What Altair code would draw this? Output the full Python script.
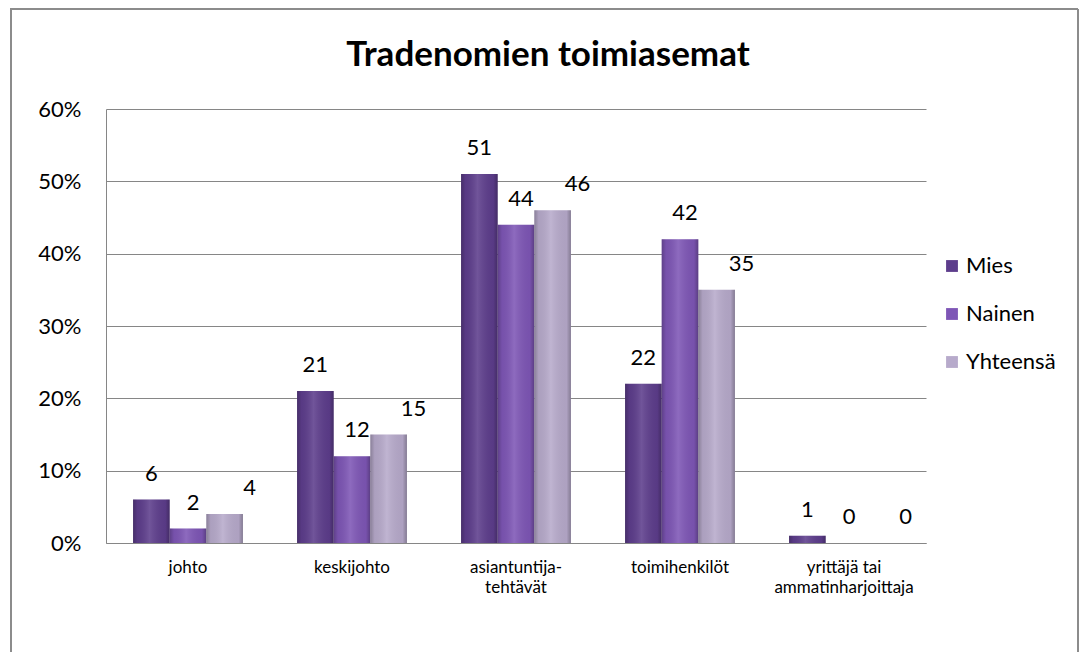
import altair as alt
import pandas as pd

title_text = "Tradenomien toimiasemat"
categories = ["johto", "keskijohto", "asiantuntija-tehtävät", "toimihenkilöt",
              "yrittäjä tai ammatinharjoittaja"]
series = ["Mies", "Nainen", "Yhteensä"]
mies = [6, 21, 51, 22, 1]
nainen = [2, 12, 44, 42, 0]
yhteensa = [4, 15, 46, 35, 0]
y_ticks = [0, 10, 20, 30, 40, 50, 60]
colors = ["#5d3d8c", "#7e56b6", "#b7aacb"]
label_dx = [0, 5, 25]

rows = []
for s, vals in zip(series, [mies, nainen, yhteensa]):
    for c, v in zip(categories, vals):
        rows.append({"kategoria": c, "sarja": s, "arvo": v})
df = pd.DataFrame(rows)

FONT = "Lato"
GRID = "#868686"

label_expr = ("datum.label == 'asiantuntija-tehtävät' ? ['asiantuntija-', 'tehtävät'] : "
              "datum.label == 'yrittäjä tai ammatinharjoittaja' ? ['yrittäjä tai', 'ammatinharjoittaja'] : datum.label")

x = alt.X("kategoria:N", sort=categories,
          scale=alt.Scale(domain=categories, paddingInner=0.33, paddingOuter=0.165),
          axis=alt.Axis(title=None, labelAngle=0, labelExpr=label_expr, labelFont=FONT,
                        labelFontSize=17, labelColor="black", ticks=False,
                        domainColor=GRID, labelPadding=16, labelLineHeight=20))
xo = alt.XOffset("sarja:N", sort=series,
                 scale=alt.Scale(domain=series, paddingInner=0, paddingOuter=0))
y = alt.Y("arvo:Q", scale=alt.Scale(domain=[0, 60]),
          axis=alt.Axis(title=None, values=y_ticks, labelExpr="datum.value + '%'",
                        labelFont=FONT, labelFontSize=22, labelColor="black",
                        ticks=False, labelPadding=25, domainColor=GRID,
                        gridColor=GRID, gridWidth=1))

base = alt.Chart(df)

bars = base.mark_bar().encode(
    x=x, xOffset=xo, y=y,
    color=alt.Color("sarja:N", sort=series,
                    scale=alt.Scale(domain=series, range=colors),
                    legend=alt.Legend(title=None, orient="none", legendX=835, legendY=146,
                                      symbolType="square", symbolSize=140,
                                      symbolStrokeWidth=0, labelFont=FONT,
                                      labelFontSize=22, labelColor="black",
                                      rowPadding=26, padding=0, labelOffset=3)),
)

shade = base.mark_bar(
    fill=alt.Gradient(
        gradient="linear", x1=0, x2=1, y1=0, y2=0,
        stops=[alt.GradientStop(offset=0, color="rgba(0,0,0,0.25)"),
               alt.GradientStop(offset=0.12, color="rgba(0,0,0,0.06)"),
               alt.GradientStop(offset=0.45, color="rgba(255,255,255,0.12)"),
               alt.GradientStop(offset=0.88, color="rgba(0,0,0,0.05)"),
               alt.GradientStop(offset=1, color="rgba(0,0,0,0.28)")]),
).encode(x=x, xOffset=xo, y=y)

texts = []
for s, d in zip(series, label_dx):
    texts.append(
        base.transform_filter(alt.datum.sarja == s)
        .mark_text(dx=d, dy=-26, baseline="middle", font=FONT, fontSize=22, color="black")
        .encode(x=x, xOffset=xo, y=y, text="arvo:Q")
    )

bdf = pd.DataFrame({"k": [0]})
title_mark = alt.Chart(bdf).mark_text(
    text=title_text, font=FONT, fontSize=35, fontWeight="bold", color="black",
    align="center", baseline="middle",
).encode(x=alt.value(442), y=alt.value(-54))

bstyle = dict(color="#8c8c8c", strokeWidth=2)
b_left = alt.Chart(bdf).mark_rule(**bstyle).encode(
    x=alt.value(-95), y=alt.value(-100), y2=alt.value(545))
b_top = alt.Chart(bdf).mark_rule(**bstyle).encode(
    x=alt.value(-96), x2=alt.value(972), y=alt.value(-100))
b_right = alt.Chart(bdf).mark_rule(**bstyle).encode(
    x=alt.value(972), y=alt.value(-100), y2=alt.value(545))

chart = alt.layer(bars, shade, *texts, title_mark, b_left, b_top, b_right).properties(
    width=820, height=434,
    padding={"left": 98, "top": 101, "right": 153, "bottom": 109},
    autosize=alt.AutoSizeParams(type="none"),
).configure_view(strokeWidth=0)

chart.save("out.html", embed_options={"renderer": "svg", "actions": False})
